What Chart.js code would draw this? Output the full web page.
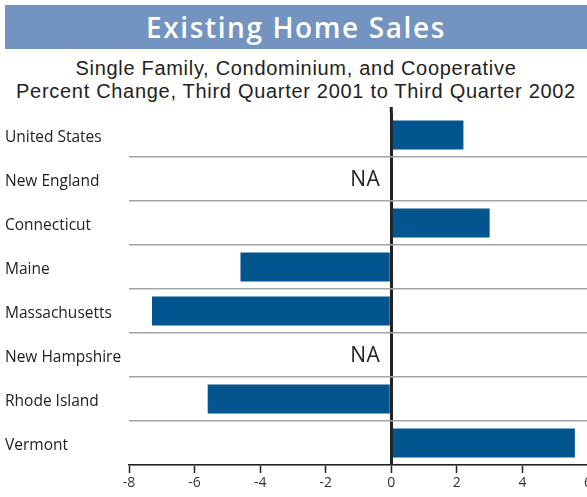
<!DOCTYPE html>
<html>
<head>
<meta charset="utf-8">
<script src="https://cdn.jsdelivr.net/npm/chart.js@4"></script>
<style>
  html, body { margin: 0; padding: 0; background: #fff; overflow: hidden; }
  body { width: 587px; height: 497px; position: relative; }
  #banner {
    position: absolute; left: 5px; top: 5px; width: 582px; height: 44px;
    background: #7393c0; color: #fff; text-align: center;
    font: 600 28px "Open Sans", sans-serif; line-height: 44px; letter-spacing: 1.6px;
  }
  #sub {
    position: absolute; left: 5px; top: 57px; width: 582px; text-align: center;
    font: 20px "Liberation Sans", Arial, sans-serif; line-height: 23px; color: #222;
    letter-spacing: 0.7px;
  }
  #wrap { position: absolute; left: 0; top: 100px; width: 600px; height: 397px; }
</style>
</head>
<body>
<div id="banner">Existing Home Sales</div>
<div id="sub">Single Family, Condominium, and Cooperative<br>Percent Change, Third Quarter 2001 to Third Quarter 2002</div>
<div id="wrap"><canvas id="chart"></canvas></div>
<script>
const categories = ['United States', 'New England', 'Connecticut', 'Maine', 'Massachusetts', 'New Hampshire', 'Rhode Island', 'Vermont'];
const changes = [2.2, null, 3.0, -4.6, -7.3, null, -5.6, 5.6];
const naLabels = ['', 'NA', '', '', '', 'NA', '', ''];
const xTicks = [-8, -6, -4, -2, 0, 2, 4, 6];

// writes "NA" left of the zero line for rows without data,
// and lets the zero line poke a bit above the plot
const naPlugin = {
  id: 'naText',
  afterDatasetsDraw(chart) {
    const { ctx, scales, chartArea } = chart;
    const x0 = scales.x.getPixelForValue(0);
    ctx.save();
    ctx.strokeStyle = '#222';
    ctx.lineWidth = 3;
    ctx.beginPath();
    ctx.moveTo(x0, chartArea.top - 6);
    ctx.lineTo(x0, chartArea.top);
    ctx.stroke();
    ctx.font = '21px "Open Sans", sans-serif';
    if ('letterSpacing' in ctx) ctx.letterSpacing = '0.5px';
    ctx.fillStyle = '#222';
    ctx.textAlign = 'right';
    ctx.textBaseline = 'middle';
    naLabels.forEach((t, i) => {
      if (!t) return;
      ctx.fillText(t, x0 - 11, scales.y.getPixelForValue(i) + 1);
    });
    ctx.restore();
  }
};

new Chart(document.getElementById('chart'), {
  type: 'bar',
  data: {
    labels: categories,
    datasets: [{
      data: changes,
      backgroundColor: '#02558f',
      barPercentage: 0.66,
      categoryPercentage: 1
    }]
  },
  options: {
    indexAxis: 'y',
    responsive: true,
    maintainAspectRatio: false,
    animation: false,
    layout: { padding: { top: 13, left: 5, right: 12, bottom: 0 } },
    plugins: { legend: { display: false }, tooltip: { enabled: false } },
    scales: {
      x: {
        min: xTicks[0],
        max: xTicks[xTicks.length - 1],
        afterBuildTicks: s => { s.ticks = xTicks.map(v => ({ value: v })); },
        afterFit: s => { s.height = 32; },
        border: { color: '#222', width: 1.5 },
        grid: {
          color: c => (c.tick && c.tick.value === 0) ? '#222' : 'transparent',
          lineWidth: c => (c.tick && c.tick.value === 0) ? 3 : 1,
          tickColor: '#222',
          tickWidth: 1.5,
          tickLength: 8
        },
        ticks: { color: '#333', font: { family: '"Open Sans", sans-serif', size: 14 }, padding: 2 }
      },
      y: {
        afterFit: s => { s.width = 124; },
        border: { display: false },
        grid: {
          offset: true,
          drawTicks: false,
          color: c => c.index === 0 ? 'transparent' : '#a3a3a3',
          lineWidth: 1.5
        },
        ticks: {
          crossAlign: 'far',
          labelOffset: 3,
          color: '#222',
          font: { family: '"Open Sans", sans-serif', size: 15.5 }
        }
      }
    }
  },
  plugins: [naPlugin]
});
</script>
</body>
</html>
